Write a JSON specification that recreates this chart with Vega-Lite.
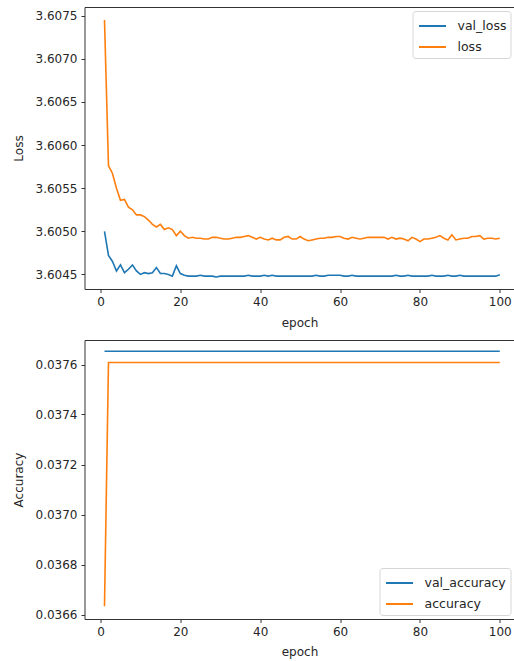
{
  "$schema": "https://vega.github.io/schema/vega-lite/v6.json",
  "padding": {"left": 12.5, "top": 7, "right": 0, "bottom": 5},
  "background": "white",
  "config": {
    "view": {"stroke": null},
    "font": "DejaVu Sans",
    "axis": {"grid": false, "domainColor": "#333", "domainWidth": 1, "tickColor": "#333", "tickWidth": 1, "tickSize": 3.5, "labelPadding": 4, "labelFontSize": 12, "labelColor": "#262626", "titleFontSize": 12, "titleFontWeight": "normal", "titleColor": "#262626"},
    "legend": {"title": null, "strokeColor": "#d6d6d6", "fillColor": "white", "cornerRadius": 3, "padding": 4, "symbolType": "M-1.35,0H1.35", "symbolStrokeWidth": 2, "symbolSize": 400, "symbolOffset": 5, "labelFontSize": 12.5, "labelColor": "#262626", "rowPadding": 3, "offset": 4, "labelOffset": 14}
  },
  "datasets": {
    "valLoss": [
      {"epoch":1,"series":"val_loss","value":3.60500},{"epoch":2,"series":"val_loss","value":3.60472},{"epoch":3,"series":"val_loss","value":3.60465},{"epoch":4,"series":"val_loss","value":3.60454},{"epoch":5,"series":"val_loss","value":3.60461},{"epoch":6,"series":"val_loss","value":3.60452},{"epoch":7,"series":"val_loss","value":3.60456},{"epoch":8,"series":"val_loss","value":3.60461},{"epoch":9,"series":"val_loss","value":3.60454},{"epoch":10,"series":"val_loss","value":3.60450},
      {"epoch":11,"series":"val_loss","value":3.60452},{"epoch":12,"series":"val_loss","value":3.60451},{"epoch":13,"series":"val_loss","value":3.60452},{"epoch":14,"series":"val_loss","value":3.60458},{"epoch":15,"series":"val_loss","value":3.60451},{"epoch":16,"series":"val_loss","value":3.60451},{"epoch":17,"series":"val_loss","value":3.60450},{"epoch":18,"series":"val_loss","value":3.60448},{"epoch":19,"series":"val_loss","value":3.60460},{"epoch":20,"series":"val_loss","value":3.60451},
      {"epoch":21,"series":"val_loss","value":3.60449},{"epoch":22,"series":"val_loss","value":3.60448},{"epoch":23,"series":"val_loss","value":3.60448},{"epoch":24,"series":"val_loss","value":3.60448},{"epoch":25,"series":"val_loss","value":3.60449},{"epoch":26,"series":"val_loss","value":3.60448},{"epoch":27,"series":"val_loss","value":3.60448},{"epoch":28,"series":"val_loss","value":3.60448},{"epoch":29,"series":"val_loss","value":3.60447},{"epoch":30,"series":"val_loss","value":3.60448},
      {"epoch":31,"series":"val_loss","value":3.60448},{"epoch":32,"series":"val_loss","value":3.60448},{"epoch":33,"series":"val_loss","value":3.60448},{"epoch":34,"series":"val_loss","value":3.60448},{"epoch":35,"series":"val_loss","value":3.60448},{"epoch":36,"series":"val_loss","value":3.60448},{"epoch":37,"series":"val_loss","value":3.60449},{"epoch":38,"series":"val_loss","value":3.60448},{"epoch":39,"series":"val_loss","value":3.60448},{"epoch":40,"series":"val_loss","value":3.60448},
      {"epoch":41,"series":"val_loss","value":3.60449},{"epoch":42,"series":"val_loss","value":3.60448},{"epoch":43,"series":"val_loss","value":3.60449},{"epoch":44,"series":"val_loss","value":3.60448},{"epoch":45,"series":"val_loss","value":3.60448},{"epoch":46,"series":"val_loss","value":3.60448},{"epoch":47,"series":"val_loss","value":3.60448},{"epoch":48,"series":"val_loss","value":3.60448},{"epoch":49,"series":"val_loss","value":3.60448},{"epoch":50,"series":"val_loss","value":3.60448},
      {"epoch":51,"series":"val_loss","value":3.60448},{"epoch":52,"series":"val_loss","value":3.60448},{"epoch":53,"series":"val_loss","value":3.60448},{"epoch":54,"series":"val_loss","value":3.60449},{"epoch":55,"series":"val_loss","value":3.60448},{"epoch":56,"series":"val_loss","value":3.60448},{"epoch":57,"series":"val_loss","value":3.60449},{"epoch":58,"series":"val_loss","value":3.60449},{"epoch":59,"series":"val_loss","value":3.60449},{"epoch":60,"series":"val_loss","value":3.60449},
      {"epoch":61,"series":"val_loss","value":3.60448},{"epoch":62,"series":"val_loss","value":3.60448},{"epoch":63,"series":"val_loss","value":3.60449},{"epoch":64,"series":"val_loss","value":3.60448},{"epoch":65,"series":"val_loss","value":3.60448},{"epoch":66,"series":"val_loss","value":3.60448},{"epoch":67,"series":"val_loss","value":3.60448},{"epoch":68,"series":"val_loss","value":3.60448},{"epoch":69,"series":"val_loss","value":3.60448},{"epoch":70,"series":"val_loss","value":3.60448},
      {"epoch":71,"series":"val_loss","value":3.60448},{"epoch":72,"series":"val_loss","value":3.60448},{"epoch":73,"series":"val_loss","value":3.60448},{"epoch":74,"series":"val_loss","value":3.60449},{"epoch":75,"series":"val_loss","value":3.60448},{"epoch":76,"series":"val_loss","value":3.60448},{"epoch":77,"series":"val_loss","value":3.60449},{"epoch":78,"series":"val_loss","value":3.60448},{"epoch":79,"series":"val_loss","value":3.60448},{"epoch":80,"series":"val_loss","value":3.60448},
      {"epoch":81,"series":"val_loss","value":3.60448},{"epoch":82,"series":"val_loss","value":3.60448},{"epoch":83,"series":"val_loss","value":3.60449},{"epoch":84,"series":"val_loss","value":3.60448},{"epoch":85,"series":"val_loss","value":3.60448},{"epoch":86,"series":"val_loss","value":3.60448},{"epoch":87,"series":"val_loss","value":3.60449},{"epoch":88,"series":"val_loss","value":3.60448},{"epoch":89,"series":"val_loss","value":3.60448},{"epoch":90,"series":"val_loss","value":3.60449},
      {"epoch":91,"series":"val_loss","value":3.60448},{"epoch":92,"series":"val_loss","value":3.60448},{"epoch":93,"series":"val_loss","value":3.60448},{"epoch":94,"series":"val_loss","value":3.60448},{"epoch":95,"series":"val_loss","value":3.60448},{"epoch":96,"series":"val_loss","value":3.60448},{"epoch":97,"series":"val_loss","value":3.60448},{"epoch":98,"series":"val_loss","value":3.60448},{"epoch":99,"series":"val_loss","value":3.60448},{"epoch":100,"series":"val_loss","value":3.604495}
    ],
    "loss": [
      {"epoch":1,"series":"loss","value":3.60745},{"epoch":2,"series":"loss","value":3.60576},{"epoch":3,"series":"loss","value":3.60567},{"epoch":4,"series":"loss","value":3.60550},{"epoch":5,"series":"loss","value":3.60536},{"epoch":6,"series":"loss","value":3.60537},{"epoch":7,"series":"loss","value":3.60528},{"epoch":8,"series":"loss","value":3.60525},{"epoch":9,"series":"loss","value":3.60519},{"epoch":10,"series":"loss","value":3.60519},
      {"epoch":11,"series":"loss","value":3.60517},{"epoch":12,"series":"loss","value":3.60513},{"epoch":13,"series":"loss","value":3.60508},{"epoch":14,"series":"loss","value":3.60505},{"epoch":15,"series":"loss","value":3.60508},{"epoch":16,"series":"loss","value":3.60502},{"epoch":17,"series":"loss","value":3.60504},{"epoch":18,"series":"loss","value":3.60502},{"epoch":19,"series":"loss","value":3.60495},{"epoch":20,"series":"loss","value":3.60500},
      {"epoch":21,"series":"loss","value":3.60495},{"epoch":22,"series":"loss","value":3.60492},{"epoch":23,"series":"loss","value":3.60493},{"epoch":24,"series":"loss","value":3.60492},{"epoch":25,"series":"loss","value":3.60492},{"epoch":26,"series":"loss","value":3.60491},{"epoch":27,"series":"loss","value":3.60491},{"epoch":28,"series":"loss","value":3.60493},{"epoch":29,"series":"loss","value":3.60493},{"epoch":30,"series":"loss","value":3.60492},
      {"epoch":31,"series":"loss","value":3.60491},{"epoch":32,"series":"loss","value":3.60491},{"epoch":33,"series":"loss","value":3.60492},{"epoch":34,"series":"loss","value":3.60493},{"epoch":35,"series":"loss","value":3.60493},{"epoch":36,"series":"loss","value":3.60494},{"epoch":37,"series":"loss","value":3.60495},{"epoch":38,"series":"loss","value":3.60493},{"epoch":39,"series":"loss","value":3.60491},{"epoch":40,"series":"loss","value":3.60493},
      {"epoch":41,"series":"loss","value":3.60491},{"epoch":42,"series":"loss","value":3.60490},{"epoch":43,"series":"loss","value":3.60492},{"epoch":44,"series":"loss","value":3.60490},{"epoch":45,"series":"loss","value":3.60490},{"epoch":46,"series":"loss","value":3.60493},{"epoch":47,"series":"loss","value":3.60494},{"epoch":48,"series":"loss","value":3.60491},{"epoch":49,"series":"loss","value":3.60491},{"epoch":50,"series":"loss","value":3.60494},
      {"epoch":51,"series":"loss","value":3.60491},{"epoch":52,"series":"loss","value":3.60489},{"epoch":53,"series":"loss","value":3.60490},{"epoch":54,"series":"loss","value":3.60491},{"epoch":55,"series":"loss","value":3.60492},{"epoch":56,"series":"loss","value":3.60492},{"epoch":57,"series":"loss","value":3.60493},{"epoch":58,"series":"loss","value":3.60493},{"epoch":59,"series":"loss","value":3.60494},{"epoch":60,"series":"loss","value":3.60494},
      {"epoch":61,"series":"loss","value":3.60492},{"epoch":62,"series":"loss","value":3.60491},{"epoch":63,"series":"loss","value":3.60493},{"epoch":64,"series":"loss","value":3.60492},{"epoch":65,"series":"loss","value":3.60491},{"epoch":66,"series":"loss","value":3.60492},{"epoch":67,"series":"loss","value":3.60493},{"epoch":68,"series":"loss","value":3.60493},{"epoch":69,"series":"loss","value":3.60493},{"epoch":70,"series":"loss","value":3.60493},
      {"epoch":71,"series":"loss","value":3.60493},{"epoch":72,"series":"loss","value":3.60491},{"epoch":73,"series":"loss","value":3.60493},{"epoch":74,"series":"loss","value":3.60491},{"epoch":75,"series":"loss","value":3.60492},{"epoch":76,"series":"loss","value":3.60491},{"epoch":77,"series":"loss","value":3.60489},{"epoch":78,"series":"loss","value":3.60493},{"epoch":79,"series":"loss","value":3.60491},{"epoch":80,"series":"loss","value":3.60488},
      {"epoch":81,"series":"loss","value":3.60491},{"epoch":82,"series":"loss","value":3.60491},{"epoch":83,"series":"loss","value":3.60492},{"epoch":84,"series":"loss","value":3.60493},{"epoch":85,"series":"loss","value":3.60495},{"epoch":86,"series":"loss","value":3.60492},{"epoch":87,"series":"loss","value":3.60490},{"epoch":88,"series":"loss","value":3.60496},{"epoch":89,"series":"loss","value":3.60490},{"epoch":90,"series":"loss","value":3.60491},
      {"epoch":91,"series":"loss","value":3.60492},{"epoch":92,"series":"loss","value":3.60492},{"epoch":93,"series":"loss","value":3.60494},{"epoch":94,"series":"loss","value":3.60494},{"epoch":95,"series":"loss","value":3.60495},{"epoch":96,"series":"loss","value":3.60491},{"epoch":97,"series":"loss","value":3.60492},{"epoch":98,"series":"loss","value":3.60492},{"epoch":99,"series":"loss","value":3.60491},{"epoch":100,"series":"loss","value":3.60492}
    ],
    "valAcc": [
      {"epoch":1,"series":"val_accuracy","value":0.037653},{"epoch":2,"series":"val_accuracy","value":0.037653},{"epoch":3,"series":"val_accuracy","value":0.037653},{"epoch":4,"series":"val_accuracy","value":0.037653},{"epoch":5,"series":"val_accuracy","value":0.037653},{"epoch":6,"series":"val_accuracy","value":0.037653},{"epoch":7,"series":"val_accuracy","value":0.037653},{"epoch":8,"series":"val_accuracy","value":0.037653},{"epoch":9,"series":"val_accuracy","value":0.037653},{"epoch":10,"series":"val_accuracy","value":0.037653},
      {"epoch":11,"series":"val_accuracy","value":0.037653},{"epoch":12,"series":"val_accuracy","value":0.037653},{"epoch":13,"series":"val_accuracy","value":0.037653},{"epoch":14,"series":"val_accuracy","value":0.037653},{"epoch":15,"series":"val_accuracy","value":0.037653},{"epoch":16,"series":"val_accuracy","value":0.037653},{"epoch":17,"series":"val_accuracy","value":0.037653},{"epoch":18,"series":"val_accuracy","value":0.037653},{"epoch":19,"series":"val_accuracy","value":0.037653},{"epoch":20,"series":"val_accuracy","value":0.037653},
      {"epoch":21,"series":"val_accuracy","value":0.037653},{"epoch":22,"series":"val_accuracy","value":0.037653},{"epoch":23,"series":"val_accuracy","value":0.037653},{"epoch":24,"series":"val_accuracy","value":0.037653},{"epoch":25,"series":"val_accuracy","value":0.037653},{"epoch":26,"series":"val_accuracy","value":0.037653},{"epoch":27,"series":"val_accuracy","value":0.037653},{"epoch":28,"series":"val_accuracy","value":0.037653},{"epoch":29,"series":"val_accuracy","value":0.037653},{"epoch":30,"series":"val_accuracy","value":0.037653},
      {"epoch":31,"series":"val_accuracy","value":0.037653},{"epoch":32,"series":"val_accuracy","value":0.037653},{"epoch":33,"series":"val_accuracy","value":0.037653},{"epoch":34,"series":"val_accuracy","value":0.037653},{"epoch":35,"series":"val_accuracy","value":0.037653},{"epoch":36,"series":"val_accuracy","value":0.037653},{"epoch":37,"series":"val_accuracy","value":0.037653},{"epoch":38,"series":"val_accuracy","value":0.037653},{"epoch":39,"series":"val_accuracy","value":0.037653},{"epoch":40,"series":"val_accuracy","value":0.037653},
      {"epoch":41,"series":"val_accuracy","value":0.037653},{"epoch":42,"series":"val_accuracy","value":0.037653},{"epoch":43,"series":"val_accuracy","value":0.037653},{"epoch":44,"series":"val_accuracy","value":0.037653},{"epoch":45,"series":"val_accuracy","value":0.037653},{"epoch":46,"series":"val_accuracy","value":0.037653},{"epoch":47,"series":"val_accuracy","value":0.037653},{"epoch":48,"series":"val_accuracy","value":0.037653},{"epoch":49,"series":"val_accuracy","value":0.037653},{"epoch":50,"series":"val_accuracy","value":0.037653},
      {"epoch":51,"series":"val_accuracy","value":0.037653},{"epoch":52,"series":"val_accuracy","value":0.037653},{"epoch":53,"series":"val_accuracy","value":0.037653},{"epoch":54,"series":"val_accuracy","value":0.037653},{"epoch":55,"series":"val_accuracy","value":0.037653},{"epoch":56,"series":"val_accuracy","value":0.037653},{"epoch":57,"series":"val_accuracy","value":0.037653},{"epoch":58,"series":"val_accuracy","value":0.037653},{"epoch":59,"series":"val_accuracy","value":0.037653},{"epoch":60,"series":"val_accuracy","value":0.037653},
      {"epoch":61,"series":"val_accuracy","value":0.037653},{"epoch":62,"series":"val_accuracy","value":0.037653},{"epoch":63,"series":"val_accuracy","value":0.037653},{"epoch":64,"series":"val_accuracy","value":0.037653},{"epoch":65,"series":"val_accuracy","value":0.037653},{"epoch":66,"series":"val_accuracy","value":0.037653},{"epoch":67,"series":"val_accuracy","value":0.037653},{"epoch":68,"series":"val_accuracy","value":0.037653},{"epoch":69,"series":"val_accuracy","value":0.037653},{"epoch":70,"series":"val_accuracy","value":0.037653},
      {"epoch":71,"series":"val_accuracy","value":0.037653},{"epoch":72,"series":"val_accuracy","value":0.037653},{"epoch":73,"series":"val_accuracy","value":0.037653},{"epoch":74,"series":"val_accuracy","value":0.037653},{"epoch":75,"series":"val_accuracy","value":0.037653},{"epoch":76,"series":"val_accuracy","value":0.037653},{"epoch":77,"series":"val_accuracy","value":0.037653},{"epoch":78,"series":"val_accuracy","value":0.037653},{"epoch":79,"series":"val_accuracy","value":0.037653},{"epoch":80,"series":"val_accuracy","value":0.037653},
      {"epoch":81,"series":"val_accuracy","value":0.037653},{"epoch":82,"series":"val_accuracy","value":0.037653},{"epoch":83,"series":"val_accuracy","value":0.037653},{"epoch":84,"series":"val_accuracy","value":0.037653},{"epoch":85,"series":"val_accuracy","value":0.037653},{"epoch":86,"series":"val_accuracy","value":0.037653},{"epoch":87,"series":"val_accuracy","value":0.037653},{"epoch":88,"series":"val_accuracy","value":0.037653},{"epoch":89,"series":"val_accuracy","value":0.037653},{"epoch":90,"series":"val_accuracy","value":0.037653},
      {"epoch":91,"series":"val_accuracy","value":0.037653},{"epoch":92,"series":"val_accuracy","value":0.037653},{"epoch":93,"series":"val_accuracy","value":0.037653},{"epoch":94,"series":"val_accuracy","value":0.037653},{"epoch":95,"series":"val_accuracy","value":0.037653},{"epoch":96,"series":"val_accuracy","value":0.037653},{"epoch":97,"series":"val_accuracy","value":0.037653},{"epoch":98,"series":"val_accuracy","value":0.037653},{"epoch":99,"series":"val_accuracy","value":0.037653},{"epoch":100,"series":"val_accuracy","value":0.037653}
    ],
    "acc": [
      {"epoch":1,"series":"accuracy","value":0.036633},{"epoch":2,"series":"accuracy","value":0.037608},{"epoch":3,"series":"accuracy","value":0.037608},{"epoch":4,"series":"accuracy","value":0.037608},{"epoch":5,"series":"accuracy","value":0.037608},{"epoch":6,"series":"accuracy","value":0.037608},{"epoch":7,"series":"accuracy","value":0.037608},{"epoch":8,"series":"accuracy","value":0.037608},{"epoch":9,"series":"accuracy","value":0.037608},{"epoch":10,"series":"accuracy","value":0.037608},
      {"epoch":11,"series":"accuracy","value":0.037608},{"epoch":12,"series":"accuracy","value":0.037608},{"epoch":13,"series":"accuracy","value":0.037608},{"epoch":14,"series":"accuracy","value":0.037608},{"epoch":15,"series":"accuracy","value":0.037608},{"epoch":16,"series":"accuracy","value":0.037608},{"epoch":17,"series":"accuracy","value":0.037608},{"epoch":18,"series":"accuracy","value":0.037608},{"epoch":19,"series":"accuracy","value":0.037608},{"epoch":20,"series":"accuracy","value":0.037608},
      {"epoch":21,"series":"accuracy","value":0.037608},{"epoch":22,"series":"accuracy","value":0.037608},{"epoch":23,"series":"accuracy","value":0.037608},{"epoch":24,"series":"accuracy","value":0.037608},{"epoch":25,"series":"accuracy","value":0.037608},{"epoch":26,"series":"accuracy","value":0.037608},{"epoch":27,"series":"accuracy","value":0.037608},{"epoch":28,"series":"accuracy","value":0.037608},{"epoch":29,"series":"accuracy","value":0.037608},{"epoch":30,"series":"accuracy","value":0.037608},
      {"epoch":31,"series":"accuracy","value":0.037608},{"epoch":32,"series":"accuracy","value":0.037608},{"epoch":33,"series":"accuracy","value":0.037608},{"epoch":34,"series":"accuracy","value":0.037608},{"epoch":35,"series":"accuracy","value":0.037608},{"epoch":36,"series":"accuracy","value":0.037608},{"epoch":37,"series":"accuracy","value":0.037608},{"epoch":38,"series":"accuracy","value":0.037608},{"epoch":39,"series":"accuracy","value":0.037608},{"epoch":40,"series":"accuracy","value":0.037608},
      {"epoch":41,"series":"accuracy","value":0.037608},{"epoch":42,"series":"accuracy","value":0.037608},{"epoch":43,"series":"accuracy","value":0.037608},{"epoch":44,"series":"accuracy","value":0.037608},{"epoch":45,"series":"accuracy","value":0.037608},{"epoch":46,"series":"accuracy","value":0.037608},{"epoch":47,"series":"accuracy","value":0.037608},{"epoch":48,"series":"accuracy","value":0.037608},{"epoch":49,"series":"accuracy","value":0.037608},{"epoch":50,"series":"accuracy","value":0.037608},
      {"epoch":51,"series":"accuracy","value":0.037608},{"epoch":52,"series":"accuracy","value":0.037608},{"epoch":53,"series":"accuracy","value":0.037608},{"epoch":54,"series":"accuracy","value":0.037608},{"epoch":55,"series":"accuracy","value":0.037608},{"epoch":56,"series":"accuracy","value":0.037608},{"epoch":57,"series":"accuracy","value":0.037608},{"epoch":58,"series":"accuracy","value":0.037608},{"epoch":59,"series":"accuracy","value":0.037608},{"epoch":60,"series":"accuracy","value":0.037608},
      {"epoch":61,"series":"accuracy","value":0.037608},{"epoch":62,"series":"accuracy","value":0.037608},{"epoch":63,"series":"accuracy","value":0.037608},{"epoch":64,"series":"accuracy","value":0.037608},{"epoch":65,"series":"accuracy","value":0.037608},{"epoch":66,"series":"accuracy","value":0.037608},{"epoch":67,"series":"accuracy","value":0.037608},{"epoch":68,"series":"accuracy","value":0.037608},{"epoch":69,"series":"accuracy","value":0.037608},{"epoch":70,"series":"accuracy","value":0.037608},
      {"epoch":71,"series":"accuracy","value":0.037608},{"epoch":72,"series":"accuracy","value":0.037608},{"epoch":73,"series":"accuracy","value":0.037608},{"epoch":74,"series":"accuracy","value":0.037608},{"epoch":75,"series":"accuracy","value":0.037608},{"epoch":76,"series":"accuracy","value":0.037608},{"epoch":77,"series":"accuracy","value":0.037608},{"epoch":78,"series":"accuracy","value":0.037608},{"epoch":79,"series":"accuracy","value":0.037608},{"epoch":80,"series":"accuracy","value":0.037608},
      {"epoch":81,"series":"accuracy","value":0.037608},{"epoch":82,"series":"accuracy","value":0.037608},{"epoch":83,"series":"accuracy","value":0.037608},{"epoch":84,"series":"accuracy","value":0.037608},{"epoch":85,"series":"accuracy","value":0.037608},{"epoch":86,"series":"accuracy","value":0.037608},{"epoch":87,"series":"accuracy","value":0.037608},{"epoch":88,"series":"accuracy","value":0.037608},{"epoch":89,"series":"accuracy","value":0.037608},{"epoch":90,"series":"accuracy","value":0.037608},
      {"epoch":91,"series":"accuracy","value":0.037608},{"epoch":92,"series":"accuracy","value":0.037608},{"epoch":93,"series":"accuracy","value":0.037608},{"epoch":94,"series":"accuracy","value":0.037608},{"epoch":95,"series":"accuracy","value":0.037608},{"epoch":96,"series":"accuracy","value":0.037608},{"epoch":97,"series":"accuracy","value":0.037608},{"epoch":98,"series":"accuracy","value":0.037608},{"epoch":99,"series":"accuracy","value":0.037608},{"epoch":100,"series":"accuracy","value":0.037608}
    ]
  },
  "vconcat": [
    {
      "width": 430,
      "height": 282,
      "layer": [
        {
          "data": {"name": "valLoss"},
          "mark": {"type": "line", "strokeWidth": 1.6},
          "encoding": {
            "x": {"field": "epoch", "type": "quantitative", "scale": {"domain": [-4.007, 103.68], "nice": false, "zero": false}, "axis": {"orient": "bottom", "values": [0, 20, 40, 60, 80, 100], "format": "d", "title": "epoch", "titleY": 33, "titleBaseline": "middle"}},
            "y": {"field": "value", "type": "quantitative", "scale": {"domain": [3.604331, 3.6076], "nice": false, "zero": false}, "axis": {"values": [3.6045, 3.605, 3.6055, 3.606, 3.6065, 3.607, 3.6075], "format": ".4f", "title": "Loss", "titleX": -66, "titleY": 141, "titleBaseline": "middle", "titleAlign": "center", "titleAngle": 270}},
            "color": {"field": "series", "type": "nominal", "scale": {"domain": ["val_loss", "loss"], "range": ["#1f77b4", "#ff7f0e"]}, "legend": {"orient": "top-right"}}
          }
        },
        {
          "data": {"name": "loss"},
          "mark": {"type": "line", "strokeWidth": 1.6},
          "encoding": {
            "x": {"field": "epoch", "type": "quantitative", "axis": {"orient": "top", "labels": false, "ticks": false, "title": null}},
            "y": {"field": "value", "type": "quantitative"},
            "color": {"field": "series", "type": "nominal", "scale": {"domain": ["val_loss", "loss"], "range": ["#1f77b4", "#ff7f0e"]}, "legend": {"orient": "top-right"}}
          }
        }
      ],
      "resolve": {"axis": {"x": "independent"}}
    },
    {
      "width": 430,
      "height": 279,
      "layer": [
        {
          "data": {"name": "valAcc"},
          "mark": {"type": "line", "strokeWidth": 1.6},
          "encoding": {
            "x": {"field": "epoch", "type": "quantitative", "scale": {"domain": [-4.007, 103.68], "nice": false, "zero": false}, "axis": {"orient": "bottom", "values": [0, 20, 40, 60, 80, 100], "format": "d", "title": "epoch", "titleY": 32, "titleBaseline": "middle"}},
            "y": {"field": "value", "type": "quantitative", "scale": {"domain": [0.036582, 0.037698], "nice": false, "zero": false}, "axis": {"values": [0.0366, 0.0368, 0.037, 0.0372, 0.0374, 0.0376], "format": ".4f", "title": "Accuracy", "titleX": -66, "titleY": 139.5, "titleBaseline": "middle", "titleAlign": "center", "titleAngle": 270}},
            "color": {"field": "series", "type": "nominal", "scale": {"domain": ["val_accuracy", "accuracy"], "range": ["#1f77b4", "#ff7f0e"]}, "legend": {"orient": "bottom-right"}}
          }
        },
        {
          "data": {"name": "acc"},
          "mark": {"type": "line", "strokeWidth": 1.6},
          "encoding": {
            "x": {"field": "epoch", "type": "quantitative", "axis": {"orient": "top", "labels": false, "ticks": false, "title": null}},
            "y": {"field": "value", "type": "quantitative"},
            "color": {"field": "series", "type": "nominal", "scale": {"domain": ["val_accuracy", "accuracy"], "range": ["#1f77b4", "#ff7f0e"]}, "legend": {"orient": "bottom-right"}}
          }
        }
      ],
      "resolve": {"axis": {"x": "independent"}}
    }
  ],
  "spacing": 51,
  "bounds": "flush",
  "resolve": {"scale": {"color": "independent", "x": "independent", "y": "independent"}, "legend": {"color": "independent"}}
}
